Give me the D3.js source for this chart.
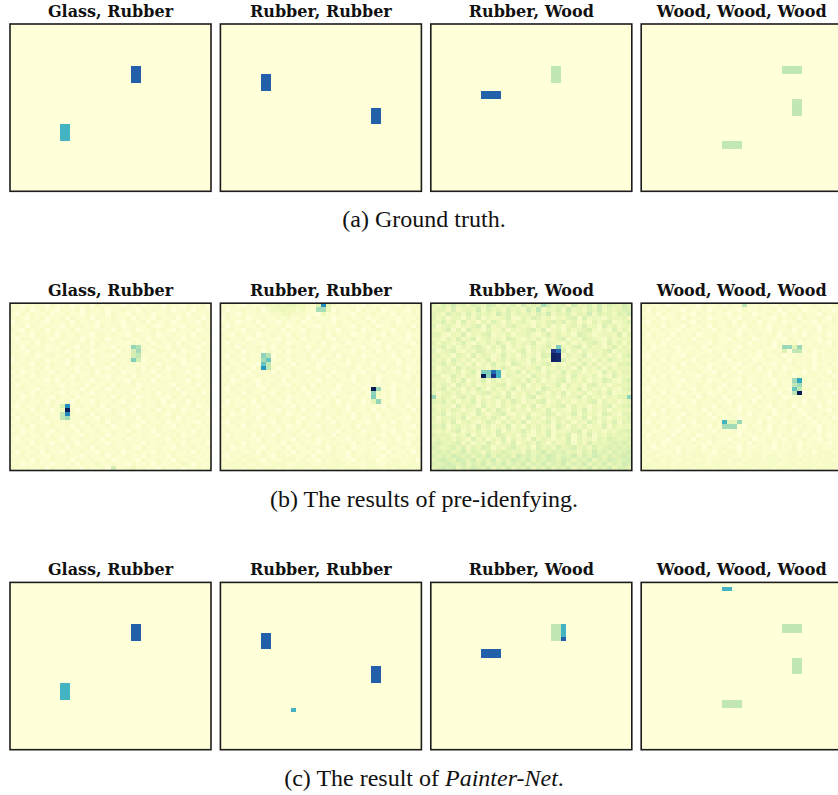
<!DOCTYPE html>
<html>
<head>
<meta charset="utf-8">
<script src="https://cdn.jsdelivr.net/npm/d3@7"></script>
<style>
  html, body { margin: 0; padding: 0; background: #ffffff; }
  svg { display: block; }
</style>
</head>
<body>
<script>
// ---- data -------------------------------------------------------------
const GRID_COLS = 40;
const GRID_ROWS = 40;

const panelTitles = ["Glass, Rubber", "Rubber, Rubber", "Rubber, Wood", "Wood, Wood, Wood"];

// material codes on the colour scale: 1 = wood, 2 = glass, 3 = rubber
// blocks: [row, col, nRows, nCols, value]
const groundTruth = [
  [[10, 24, 4, 2, 3], [24, 10, 4, 2, 2]],
  [[12, 8, 4, 2, 3], [20, 30, 4, 2, 3]],
  [[16, 10, 2, 4, 3], [10, 24, 4, 2, 1]],
  [[10, 28, 2, 4, 1], [18, 30, 4, 2, 1], [28, 16, 2, 4, 1]]
];

const painterNet = [
  [[10, 24, 4, 2, 3], [24, 10, 4, 2, 2]],
  [[12, 8, 4, 2, 3], [20, 30, 4, 2, 3], [30, 14, 1, 1, 2]],
  [[16, 10, 2, 4, 3], [10, 24, 4, 2, 1], [10, 26, 3, 1, 2], [13, 26, 1, 1, 3]],
  [[10, 28, 2, 4, 1], [18, 30, 4, 2, 1], [28, 16, 2, 4, 1], [1, 16, 1, 2, 2]]
];

// pre-identification output: background level per cell (digit) ...
const NOISE_STEP = 0.12;
const preNoiseGlassRubber = [
"1201121021120112031211021201120211021120",
"2112012110211202112011211021211201120211",
"1021211201121102112021102112011211202112",
"1210212011202112021121120211021120211201",
"0211121021120211201121021120211201211021",
"1120211211021121102112012112101211021121",
"2102112021112011211202112011212102112012",
"1211021120211211022121102211201121120211",
"1022112101211202112011221120211211021121",
"2111202112012112021121102112021120211201",
"1202112011221021121102112021211021121021",
"2110212111202112011220211121022112012112",
"1211201221121021121102112011211201121021",
"0212112011202112021121122101121121021121",
"1121021121102112011202112111202112011212",
"2112112021121021211021211202112011211021",
"1201121102112011202112011211021121102112",
"2112021121120211211021120211201121121021",
"1211211020211211021121102112021121102112",
"2021121121021120211202112011212102112021",
"1121102112111202112011211021121120211211",
"2112021121021121021121120211202112011202",
"1201121102112011211202112011211021121121",
"2112112021120211021121021121120211202112",
"1021121121021121120211211021121102112011",
"2112021102112011211021120211202112011211",
"1211211211202112021121021121121021121120",
"2021120211021121102112112021121120211211",
"1121211021121102112021121102112011211021",
"2112021121120211211201121021121102112112",
"1201121102112021121121102112021121120211",
"2112112021121102112021121121102112011212",
"1021121121021121120211201121121021121121",
"2112021102112011211021121102112112021120",
"1211211211202112021121121021121102112112",
"2021120211021121102112011211021121120211",
"1121211021121102112021121102112021121121",
"2112021121120211211201121021121102112112",
"1201121102112021131121102112021121320211",
"2112112021121102112021123121102112011212"
];
const preNoiseRubberRubber = [
"1121021123343443321120211211021121102112",
"2011211202334332311211021120211201121021",
"1210211211223322211021121102112112021121",
"0211201121121211202112011211201121102112",
"1120112021102112011211021121120211201121",
"2011211202112011211021121102112011211202",
"1121021121120211021121102112011211021121",
"2102112011211021121120211201121102112011",
"1211201121102112021121021121120211211021",
"2021121102112011211202112011211021121102",
"1120211211021121102112011211021120211211",
"2112011202112011211021121102112021121021",
"1021121121021121120211202112011211021121",
"2112021102112021121102112021121121102112",
"1211211021121102112011211021120211202112",
"2021120211201121121021121120211202112011",
"1121102112021121102112011211021121102112",
"2112011211211021121120211202112011211021",
"1201121021120211211021121102112021121121",
"2112112011211021120211201121102112011212",
"1021121102112112021121102112011211021121",
"2112021121021121102112011211202112021120",
"1211211202112011211021121102112112011211",
"2021120211211021120211202112011211021121",
"1121211021121102112011211021121102112021",
"2112021121102112021121121021120211211202",
"1201121102112011211021121102112021121121",
"2112112021121121021120211202112011211021",
"1021121121021120211211021121102112021121",
"2112021102112011211021121120211201121102",
"1211211211202112021121102112011211021121",
"2021120211021121102112021121121102112011",
"1121211021121102112011211021120211202112",
"2112021121120211211021121102112011211021",
"1201121102112021121120211201121102112112",
"2112112021121102112011211021121120211202",
"1021221121022121120212211021221102112121",
"2112122102112221211021221102122011221120",
"1222211211222112221121222121122112221221",
"2122122122212122212212221222122212122212"
];
const preNoiseRubberWood = [
"5364745365476354637465374563745637465475",
"4553634547364536453746354637453647354566",
"5436453635453746354536473546354736453657",
"5352442536243346225365342435626343254453",
"4463526342536425345324356463524253562346",
"5245324356263435643425352424536342635244",
"4346252644253352434563623425345632426353",
"5532436243562335244532463534265423443625",
"4425363462453426532435243562436543253444",
"5354246324353642534462354325243564263525",
"4463524356425362434253463243562534246354",
"5245632436534253246243534562425343562445",
"4534254263542363425342654325346243534256",
"5352643524362453534262435463253425364344",
"4463534252436342653243562424536352432556",
"5245263543425364235346243534262435253444",
"4354352462634524362534254363542432635355",
"5523643542453625434264352452634352426344",
"4442536243625342453635243562435243653256",
"5354264352434562436243534625342563424445",
"4463542536425343625342653424362534253256",
"5245353424563426243536425362435245362344",
"6354246352424536342562434253462534243556",
"5463524362534253642435623534243562534245",
"4344263542634253425362434562534243562456",
"5353542436253642534254362432536243524344",
"4462435326424563243523465243625342653255",
"5244536243536425342634253542436253424346",
"4353624532464253536243462535243642536255",
"5462453426352436242535342642535243625344",
"4343562435243625346425362434562534243556",
"5454243625342653425324362546253624354545",
"4545354263524362534263542436253425465456",
"5654563524364253624536425346253645456565",
"6545646354652435643526453645645364565656",
"5656457465364565453645746564536475646567",
"6565765646574656475646576465746576465676",
"5676576574657465765746576576465746576567",
"6567657465746574657465746574657465746576",
"5676746576574657465746574657465746574665"
];
const preNoiseWood = [
"1211201121102112021131121102112011211021",
"2021121102112011211021121120211201121102",
"1120211211021121102112011211021121102112",
"2112011202112011211021121102112021121021",
"1021121121021121120211202112011211021121",
"2112021102112021121102112021121121102112",
"1211211021121102112011211021120211202112",
"2021120211201121121021121120211202112011",
"1121102112021121102112011211021121102112",
"2112011211211021121120211202112011211021",
"1201121021120211211021121102112021121121",
"2112112011211021120211201121102112011212",
"1021121102112112021121102112011211021121",
"2112021121021121102112011211202112021120",
"1211211202112011211021121102112112011211",
"2021120211211021120211202112011211021121",
"1121211021121102112011211021121102112021",
"2112021121102112021121121021120211211202",
"1201121102112011211021121102112021121121",
"2112112021121121021120211202112011211021",
"1021121121021120211211021121102112021121",
"2112021102112011211021121120211201121102",
"1211211211202112021121102112011211021121",
"2021120211021121102112021121121102112011",
"1121211021121102112011211021120211202112",
"2112021121120211211021121102112011211021",
"1201121102112021121120211201121102112112",
"2112112021121102112011211021121120211202",
"1021121121021121120211202112011211021121",
"2112021102112021121102112021121121102112",
"1211211021121102112011211021120211202112",
"2021120211201121121021121120211202112011",
"1121102112021121102112011211021121102112",
"2112011211211021121120211202112011211021",
"1201121021120211211021121102112021121121",
"2122112021221102122021221121122112022212",
"1221221121222112221121221221122122121221",
"2122122122212122212212221222122212122212",
"1222121221222122212122212221222122212221",
"2212221222122212221222122212221222122212"
];
const preNoise = [preNoiseGlassRubber, preNoiseRubberRubber, preNoiseRubberWood, preNoiseWood];

// ... and the stronger responses: [row, col, value]
const preSpots = [
  [[10, 24, 1.35], [10, 25, 1.15], [11, 24, 0.8], [11, 25, 1.25], [12, 24, 0.8], [12, 25, 1.0],
   [13, 24, 1.5], [13, 25, 0.85], [24, 10, 0.75], [24, 11, 2.5], [25, 10, 0.3], [25, 11, 4.0],
   [26, 10, 1.0], [26, 11, 2.6], [27, 10, 1.0], [27, 11, 1.25], [39, 20, 0.8]],
  [[0, 20, 2.5], [0, 19, 0.6], [0, 21, 0.5], [1, 19, 1.2], [1, 20, 1.2], [1, 21, 0.5], [2, 20, 0.4],
   [12, 8, 1.4], [12, 9, 1.1], [13, 8, 1.25], [13, 9, 1.7], [14, 8, 1.7], [14, 9, 1.0],
   [15, 8, 2.4], [15, 9, 1.0], [20, 30, 4.0], [20, 31, 1.3], [21, 30, 1.4], [21, 31, 0.3],
   [22, 30, 1.5], [22, 31, 0.2], [23, 30, 0.6], [23, 31, 1.35]],
  [[10, 25, 1.5], [11, 24, 3.5], [11, 25, 3.0], [12, 24, 3.9], [12, 25, 3.8], [13, 24, 3.9], [13, 25, 3.8],
   [16, 10, 1.5], [16, 11, 1.5], [16, 12, 2.9], [16, 13, 2.0], [17, 10, 4.0], [17, 11, 1.4],
   [17, 12, 3.6], [17, 13, 2.0], [22, 0, 1.3], [22, 39, 1.4], [0, 22, 1.2], [1, 21, 1.0]],
  [[10, 28, 1.3], [10, 29, 1.3], [10, 30, 0.6], [10, 31, 1.3], [11, 28, 0.7], [11, 30, 1.0], [11, 31, 1.0],
   [18, 30, 1.25], [18, 31, 2.2], [19, 30, 1.0], [19, 31, 1.25], [20, 30, 1.7], [20, 31, 1.0],
   [21, 30, 1.0], [21, 31, 4.0], [28, 16, 2.0], [28, 17, 0.6], [28, 18, 0.5], [28, 19, 1.3],
   [29, 16, 1.25], [29, 17, 1.25], [29, 18, 1.25], [0, 20, 1.0]]
];

const captions = [
  [{ t: "(a) Ground truth." }],
  [{ t: "(b) The results of pre-idenfying." }],
  [{ t: "(c) The result of " }, { t: "Painter-Net", italic: true }, { t: "." }]
];

// ---- layout -------------------------------------------------------------
const W = 838, H = 795;
const PANEL_W = 201, PANEL_H = 167.3;
const PANEL_LEFT = 10, PANEL_STEP_X = 210.4;
const ROW_TOP = 24, ROW_STEP_Y = 279.2;

const svg = d3.select("body").append("svg")
  .attr("width", W).attr("height", H)
  .attr("viewBox", `0 0 ${W} ${H}`);

const color = d3.scaleSequential(d3.interpolateYlGnBu).domain([0, 4]);
const xCell = d3.scaleBand().domain(d3.range(GRID_COLS)).range([0, PANEL_W]);
const yCell = d3.scaleBand().domain(d3.range(GRID_ROWS)).range([0, PANEL_H]);

function emptyGrid() {
  return d3.range(GRID_ROWS).map(() => d3.range(GRID_COLS).map(() => 0));
}
function gridFromBlocks(blocks) {
  const g = emptyGrid();
  blocks.forEach(([r, c, nr, nc, v]) => {
    for (let i = r; i < r + nr; i++) for (let j = c; j < c + nc; j++) g[i][j] = v;
  });
  return g;
}
function gridFromNoise(rows, spots) {
  const g = emptyGrid();
  rows.forEach((s, i) => {
    const line = (s + "0".repeat(GRID_COLS)).slice(0, GRID_COLS);
    for (let j = 0; j < GRID_COLS; j++) g[i][j] = (+line[j]) * NOISE_STEP;
  });
  spots.forEach(([r, c, v]) => { g[r][c] = v; });
  return g;
}

const figureRows = [
  groundTruth.map(gridFromBlocks),
  preNoise.map((n, k) => gridFromNoise(n, preSpots[k])),
  painterNet.map(gridFromBlocks)
];

figureRows.forEach((grids, ri) => {
  const y0 = ROW_TOP + ri * ROW_STEP_Y;
  grids.forEach((grid, pi) => {
    const x0 = PANEL_LEFT + pi * PANEL_STEP_X;
    const g = svg.append("g").attr("transform", `translate(${x0},${y0})`);

    const cells = [];
    grid.forEach((row, r) => row.forEach((v, c) => cells.push({ r, c, v })));

    g.append("g").attr("shape-rendering", "crispEdges")
      .selectAll("rect").data(cells).join("rect")
      .attr("x", d => xCell(d.c))
      .attr("y", d => yCell(d.r))
      .attr("width", xCell.bandwidth() + 0.4)
      .attr("height", yCell.bandwidth() + 0.4)
      .attr("fill", d => color(d.v));

    g.append("rect")
      .attr("x", 0).attr("y", 0)
      .attr("width", PANEL_W).attr("height", PANEL_H)
      .attr("fill", "none")
      .attr("stroke", "#1c1c1c")
      .attr("stroke-width", 1.6);

    g.append("text")
      .attr("x", PANEL_W / 2).attr("y", -7)
      .attr("text-anchor", "middle")
      .attr("font-family", "'DejaVu Serif', serif")
      .attr("font-weight", "bold")
      .attr("font-size", 16)
      .attr("fill", "#111")
      .text(panelTitles[pi]);
  });

  const cap = svg.append("text")
    .attr("x", 424).attr("y", y0 + PANEL_H + 36)
    .attr("text-anchor", "middle")
    .attr("font-family", "'Liberation Serif', 'Times New Roman', serif")
    .attr("font-size", 24)
    .attr("fill", "#111");
  captions[ri].forEach(part => {
    cap.append("tspan")
      .attr("font-style", part.italic ? "italic" : "normal")
      .text(part.t);
  });
});
</script>
</body>
</html>
